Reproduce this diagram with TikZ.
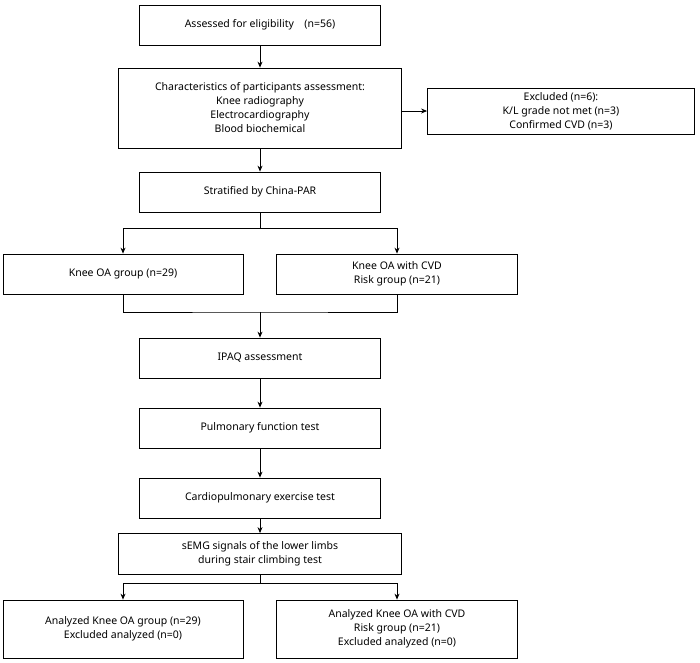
\documentclass[tikz,border=0pt]{standalone}
\usepackage{fontspec}
\setmainfont{Noto Sans}
\usetikzlibrary{arrows.meta,positioning}
\begin{document}
\begin{tikzpicture}[x=1pt,y=-1pt,
  box/.style={draw,line width=0.8pt,align=center,inner sep=0pt,
              font=\fontsize{10.5}{14}\selectfont},
  arr/.style={-{Stealth[length=6pt,width=5pt]},line width=0.8pt},
  ln/.style={line width=0.8pt}]
\useasboundingbox (0,0) rectangle (700,662);
\tikzset{every node/.style={box}}
% main column
\node[minimum width=241,minimum height=40] (assess) at (260,25) {Assessed for eligibility\quad(n=56)};
\node[minimum width=283,minimum height=80] (charac) at (260,108)
  {Characteristics of participants assessment:\\Knee radiography\\Electrocardiography\\Blood biochemical};
\node[minimum width=267,minimum height=46] (excl) at (561,111)
  {Excluded (n=6):\\K/L grade not met (n=3)\\Confirmed CVD (n=3)};
\node[minimum width=241,minimum height=40] (strat) at (260,192) {Stratified by China-PAR};
\node[minimum width=240,minimum height=40] (oa) at (123,274) {Knee OA group (n=29)};
\node[minimum width=241,minimum height=40] (cvd) at (397,274) {Knee OA with CVD\\Risk group (n=21)};
\node[minimum width=241,minimum height=40] (ipaq) at (260,358) {IPAQ assessment};
\node[minimum width=241,minimum height=40] (pulm) at (260,428) {Pulmonary function test};
\node[minimum width=241,minimum height=40] (cpet) at (260,498) {Cardiopulmonary exercise test};
\node[minimum width=283,minimum height=41] (semg) at (260,554)
  {sEMG signals of the lower limbs\\during stair climbing test};
\node[minimum width=240,minimum height=58] (anoa) at (123,629)
  {Analyzed Knee OA group (n=29)\\Excluded analyzed\ (n=0)};
\node[minimum width=241,minimum height=58] (ancvd) at (397,629)
  {Analyzed Knee OA with CVD\\Risk group (n=21)\\Excluded analyzed\ (n=0)};
% connectors
\draw[arr] (assess) -- (charac);
\draw[arr] (charac.east |- excl.west) -- (excl.west);
\draw[arr] (charac) -- (strat);
\coordinate (split1) at (260,228);
\draw[ln] (strat) -- (split1);
\draw[arr] (split1) -| (oa.north);
\draw[arr] (split1) -| (cvd.north);
\coordinate (merge) at (260,312);
\draw[ln] (oa.south) |- (merge) -| (cvd.south);
\draw[arr] (merge) -- (ipaq);
\draw[arr] (ipaq) -- (pulm);
\draw[arr] (pulm) -- (cpet);
\draw[arr] (cpet) -- (semg);
\coordinate (split2) at (260,583);
\draw[ln] (semg) -- (split2);
\draw[arr] (split2) -| (anoa.north);
\draw[arr] (split2) -| (ancvd.north);
\end{tikzpicture}
\end{document}
